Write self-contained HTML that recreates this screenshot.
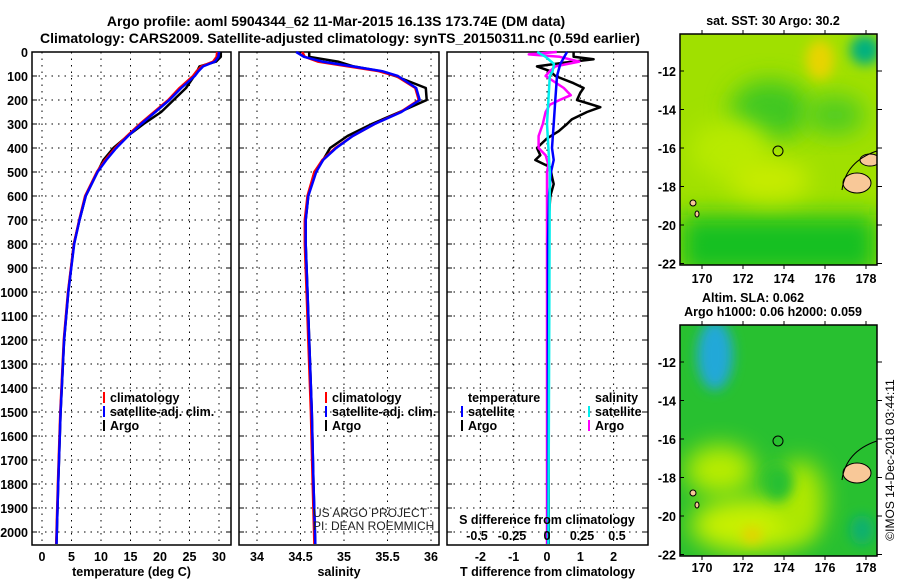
<!DOCTYPE html>
<html><head><meta charset="utf-8">
<style>
body{margin:0;background:#fff;}
svg{display:block;font-family:"Liberation Sans",sans-serif;}
.t{font-weight:bold;font-size:14px;}
.k{font-weight:bold;font-size:12.5px;}
.g{stroke:#000;stroke-dasharray:1.5 5;stroke-width:1;}
</style></head>
<body>
<svg id="c" width="900" height="580" viewBox="0 0 900 580" xmlns="http://www.w3.org/2000/svg">
<defs>
<filter id="bl" x="-50%" y="-50%" width="200%" height="200%"><feGaussianBlur stdDeviation="12"/></filter>
<filter id="bl2" x="-50%" y="-50%" width="200%" height="200%"><feGaussianBlur stdDeviation="6"/></filter>
<clipPath id="m1"><rect x="680" y="34" width="197" height="231"/></clipPath>
<clipPath id="m2"><rect x="680" y="325" width="197" height="231"/></clipPath>
</defs>
<text class="t" x="336" y="26" text-anchor="middle">Argo profile: aoml 5904344_62 11-Mar-2015 16.13S 173.74E (DM data)</text>
<text class="t" x="340" y="43" text-anchor="middle">Climatology: CARS2009. Satellite-adjusted climatology: synTS_20150311.nc (0.59d earlier)</text>
<g id="panels"></g>
<g id="maps">
 <g clip-path="url(#m1)">
  <rect x="680" y="34" width="197" height="231" fill="#a0e000"/>
  <rect x="680" y="215" width="197" height="60" fill="#18c020" filter="url(#bl)"/>
  <ellipse cx="770" cy="110" rx="40" ry="30" fill="#40c820" filter="url(#bl)"/>
  <ellipse cx="835" cy="115" rx="30" ry="20" fill="#50cc20" filter="url(#bl)"/>
  <ellipse cx="820" cy="60" rx="14" ry="20" fill="#e8d400" filter="url(#bl2)"/>
  <ellipse cx="865" cy="50" rx="15" ry="15" fill="#00b080" filter="url(#bl2)"/>
  <ellipse cx="730" cy="150" rx="40" ry="30" fill="#b8ea00" filter="url(#bl)"/>
  <ellipse cx="770" cy="180" rx="40" ry="20" fill="#c8ec00" filter="url(#bl)"/>
  <ellipse cx="857" cy="183" rx="14" ry="10" fill="#f8c898" stroke="#000"/>
  <ellipse cx="870" cy="160" rx="10" ry="6" fill="#f8c898" stroke="#000"/>
  <path d="M842 190 Q846 160 880 150" fill="none" stroke="#000"/>
  <ellipse cx="693" cy="203" rx="3" ry="3" fill="#f8c898" stroke="#000"/>
  <ellipse cx="697" cy="214" rx="2" ry="3" fill="#f8c898" stroke="#000"/>
  <circle cx="778" cy="151" r="5" fill="none" stroke="#000"/>
 </g>
 <rect x="680" y="34" width="197" height="231" fill="none" stroke="#000" stroke-width="1.5"/>
 <g clip-path="url(#m2)">
  <rect x="680" y="325" width="197" height="231" fill="#28c030"/>
  <ellipse cx="715" cy="355" rx="18" ry="35" fill="#20a8d8" filter="url(#bl2)"/>
  <ellipse cx="720" cy="470" rx="35" ry="25" fill="#b8ec00" filter="url(#bl)"/>
  <ellipse cx="750" cy="525" rx="60" ry="28" fill="#c8f000" filter="url(#bl)"/>
  <ellipse cx="800" cy="500" rx="25" ry="40" fill="#b0e800" filter="url(#bl)"/>
  <ellipse cx="778" cy="483" rx="15" ry="18" fill="#28c030" filter="url(#bl2)"/>
  <ellipse cx="752" cy="535" rx="10" ry="8" fill="#e8d000" filter="url(#bl2)"/>
  <ellipse cx="862" cy="530" rx="12" ry="15" fill="#10b070" filter="url(#bl2)"/>
  <ellipse cx="857" cy="473" rx="14" ry="10" fill="#f8c898" stroke="#000"/>
  <path d="M842 480 Q846 450 880 440" fill="none" stroke="#000"/>
  <ellipse cx="693" cy="493" rx="3" ry="3" fill="#f8c898" stroke="#000"/>
  <ellipse cx="697" cy="505" rx="2" ry="3" fill="#f8c898" stroke="#000"/>
  <circle cx="778" cy="441" r="5" fill="none" stroke="#000"/>
 </g>
 <rect x="680" y="325" width="197" height="231" fill="none" stroke="#000" stroke-width="1.5"/>
 <text class="k" x="773" y="25" text-anchor="middle">sat. SST: 30 Argo: 30.2</text>
 <text class="k" x="753" y="302" text-anchor="middle">Altim. SLA: 0.062</text>
 <text class="k" x="773" y="316" text-anchor="middle">Argo h1000: 0.06 h2000: 0.059</text>
 <text x="894" y="460" font-size="12" transform="rotate(-90 894 460)" text-anchor="middle">©IMOS 14-Dec-2018 03:44:11</text>
</g>
</svg>
<script>
const depths=[0,20,40,60,80,100,150,200,250,300,350,400,450,500,600,700,800,1000,1200,1500,1800,2050];
const climT=[29.7,29.6,29.0,27.0,26.2,25.6,23.3,21.4,19.0,16.6,14.4,12.4,10.7,9.3,7.3,6.3,5.4,4.4,3.7,3.1,2.7,2.4];
const satT=[30.0,29.9,29.3,27.3,26.5,25.9,23.6,21.6,19.2,16.8,14.6,12.6,10.9,9.4,7.4,6.35,5.45,4.45,3.75,3.15,2.75,2.45];
const argoT=[30.3,30.3,29.5,26.7,26.3,25.8,24.4,22.3,20.2,17.2,14.5,12.1,10.4,9.4,7.4,6.35,5.4,4.45,3.75,3.15,2.75,2.45];
const climS=[34.52,34.55,34.7,35.05,35.4,35.6,35.82,35.86,35.65,35.35,35.1,34.9,34.75,34.66,34.58,34.55,34.55,34.57,34.59,34.62,34.64,34.66];
const satS=[34.45,34.54,34.75,35.1,35.44,35.62,35.83,35.87,35.66,35.35,35.1,34.91,34.76,34.68,34.59,34.56,34.56,34.58,34.6,34.63,34.65,34.67];
const argoS=[34.6,34.6,34.93,35.11,35.42,35.59,35.94,35.95,35.64,35.32,35.04,34.84,34.76,34.66,34.59,34.56,34.56,34.58,34.6,34.63,34.65,34.67];
const dTdep=[0,20,30,45,60,80,100,130,150,170,200,230,250,280,300,330,360,400,430,450,480,520,550,600,700,1000,2050];
const dTargo=[0.8,0.8,1.4,0.5,-0.3,0.1,0.25,0.8,1.1,1.0,0.9,1.6,1.2,0.75,0.6,0.35,0,-0.3,-0.2,-0.35,0.1,0.15,0.2,0.1,0.05,0.05,0.05];
const dTsatDep=[0,50,100,200,300,400,450,500,600,800,2050];
const dTsat=[0.6,0.4,0.3,0.25,0.2,0.15,0.2,0.12,0.06,0.03,0.03];
const dSdep=[0,10,20,40,60,80,100,150,180,200,220,250,300,350,400,430,470,500,2050];
const dSargo=[0.07,-0.13,0.09,0.23,0.06,0.02,-0.01,0.12,0.17,0.09,0.02,-0.01,-0.03,-0.06,-0.06,-0.01,0.01,0,0];
const dSsatDep=[0,20,50,80,100,200,300,400,500,2050];
const dSsat=[-0.07,-0.01,0.05,0.04,0.02,0.01,0,0.01,0.02,0.01];
const depthTicks=[0,100,200,300,400,500,600,700,800,900,1000,1100,1200,1300,1400,1500,1600,1700,1800,1900,2000];
const tTicks=[0,5,10,15,20,25,30];
const sTicks=[34,34.5,35,35.5,36];
const dTTicks=[-2,-1,0,1,2];
const dSTicks=[-0.5,-0.25,0,0.25,0.5];
const latTicks=[-12,-14,-16,-18,-20,-22];
const lonTicks=[170,172,174,176,178];

const NS='http://www.w3.org/2000/svg';
const root=document.getElementById('panels');
const mk=(t,a,p)=>{const e=document.createElementNS(NS,t);for(const k in a)e.setAttribute(k,a[k]);(p||root).appendChild(e);return e;};
const Y=d=>52+d*0.24;
const TOP=52,BOT=545;
const xT=v=>42+v*5.9, xS=v=>257+(v-34)*87, xDT=v=>547+v*33.3, xDS=v=>547+v*140;
const panels=[{x0:32,x1:231,f:xT,ticks:tTicks,title:'temperature (deg C)',name:'temperature-panel'},
 {x0:239,x1:439,f:xS,ticks:sTicks,title:'salinity',name:'salinity-panel'},
 {x0:447,x1:648,f:xDT,ticks:dTTicks,title:'T difference from climatology',name:'difference-panel'}];
panels.forEach((p,i)=>{
 const g=mk('g',{});
 
 
 depthTicks.forEach(d=>{mk('line',{x1:p.x0,x2:p.x1,y1:Y(d),y2:Y(d),class:'g'},g);
  mk('line',{x1:p.x0,x2:p.x0+5,y1:Y(d),y2:Y(d),stroke:'#000'},g);mk('line',{x1:p.x1-5,x2:p.x1,y1:Y(d),y2:Y(d),stroke:'#000'},g);});
 p.ticks.forEach(v=>{mk('line',{x1:p.f(v),x2:p.f(v),y1:TOP,y2:BOT,class:'g'},g);
  const t=mk('text',{x:p.f(v),y:561,class:'k','text-anchor':'middle'},g);t.textContent=v;
  });
 const tt=mk('text',{x:(p.x0+p.x1)/2,y:576,class:'k','text-anchor':'middle'},g);tt.textContent=p.title;
 
 mk('rect',{x:p.x0,y:TOP,width:p.x1-p.x0,height:BOT-TOP,fill:'none',stroke:'#000','stroke-width':1.5},g);
});
depthTicks.forEach(d=>{const t=mk('text',{x:28,y:Y(d)+5,class:'k','text-anchor':'end'});t.textContent=d;
 });
function line(xs,ds,f,col,name){const pts=xs.map((v,i)=>f(v).toFixed(1)+','+Y(ds[i]).toFixed(1)).join(' ');
 const e=mk('polyline',{points:pts,fill:'none',stroke:col,'stroke-width':2.5,'stroke-linejoin':'round'});
 }
line(argoT,depths,xT,'#000','argo-temperature');
line(climT,depths,xT,'#f00','clim-temperature');
line(satT,depths,xT,'#00f','sat-temperature');
line(argoS,depths,xS,'#000','argo-salinity');
line(climS,depths,xS,'#f00','clim-salinity');
line(satS,depths,xS,'#00f','sat-salinity');
line(dTargo,dTdep,xDT,'#000','argo-t-diff');
line(dSargo,dSdep,xDS,'#f0f','argo-s-diff');
line(dTsat,dTsatDep,xDT,'#00f','sat-t-diff');
line(dSsat,dSsatDep,xDS,'#0ee','sat-s-diff');
const sl=mk('text',{x:547,y:524,class:'k','text-anchor':'middle'});sl.textContent='S difference from climatology';

dSTicks.forEach(v=>{const t=mk('text',{x:xDS(v),y:540,class:'k','text-anchor':'middle'});t.textContent=v;
 });
function leg(x,y,col,txt,bar){if(bar){mk('rect',{x:x-7,y:y-10,width:2,height:11,fill:col});}
 const t=mk('text',{x:x,y:y,class:'k'});t.textContent=txt;}
[[110,'#f00','climatology'],[110,'#00f','satellite-adj. clim.'],[110,'#000','Argo']].forEach((a,i)=>leg(a[0],402+i*14,a[1],a[2],1));
[[332,'#f00','climatology'],[332,'#00f','satellite-adj. clim.'],[332,'#000','Argo']].forEach((a,i)=>leg(a[0],402+i*14,a[1],a[2],1));
leg(468,402,'#000','temperature',0);leg(468,416,'#00f','satellite',1);leg(468,430,'#000','Argo',1);
leg(595,402,'#000','salinity',0);leg(595,416,'#0ee','satellite',1);leg(595,430,'#f0f','Argo',1);
const u1=mk('text',{x:313,y:517,'font-size':12,fill:'#222'});u1.textContent='US ARGO PROJECT';

const u2=mk('text',{x:313,y:530,'font-size':12,fill:'#222'});u2.textContent='PI: DEAN ROEMMICH';

const maps=document.getElementById('maps');
[[34,265,283,71],[325,556,572,362]].forEach(m=>{
 latTicks.forEach(l=>{const y=m[3]+(-12-l)*19.25;
  mk('line',{x1:877,x2:882,y1:y,y2:y,stroke:'#000'},maps);mk('line',{x1:680,x2:684,y1:y,y2:y,stroke:'#000'},maps);
  const t=mk('text',{x:676,y:y+5,class:'k','text-anchor':'end'},maps);t.textContent=l;});
 lonTicks.forEach(l=>{const x=702+(l-170)*20.5;
  mk('line',{x1:x,x2:x,y1:m[1],y2:m[1]+4,stroke:'#000'},maps);mk('line',{x1:x,x2:x,y1:m[0],y2:m[0]-4,stroke:'#000'},maps);
  const t=mk('text',{x:x,y:m[2],class:'k','text-anchor':'middle'},maps);t.textContent=l;});
});
</script>
</body></html>
